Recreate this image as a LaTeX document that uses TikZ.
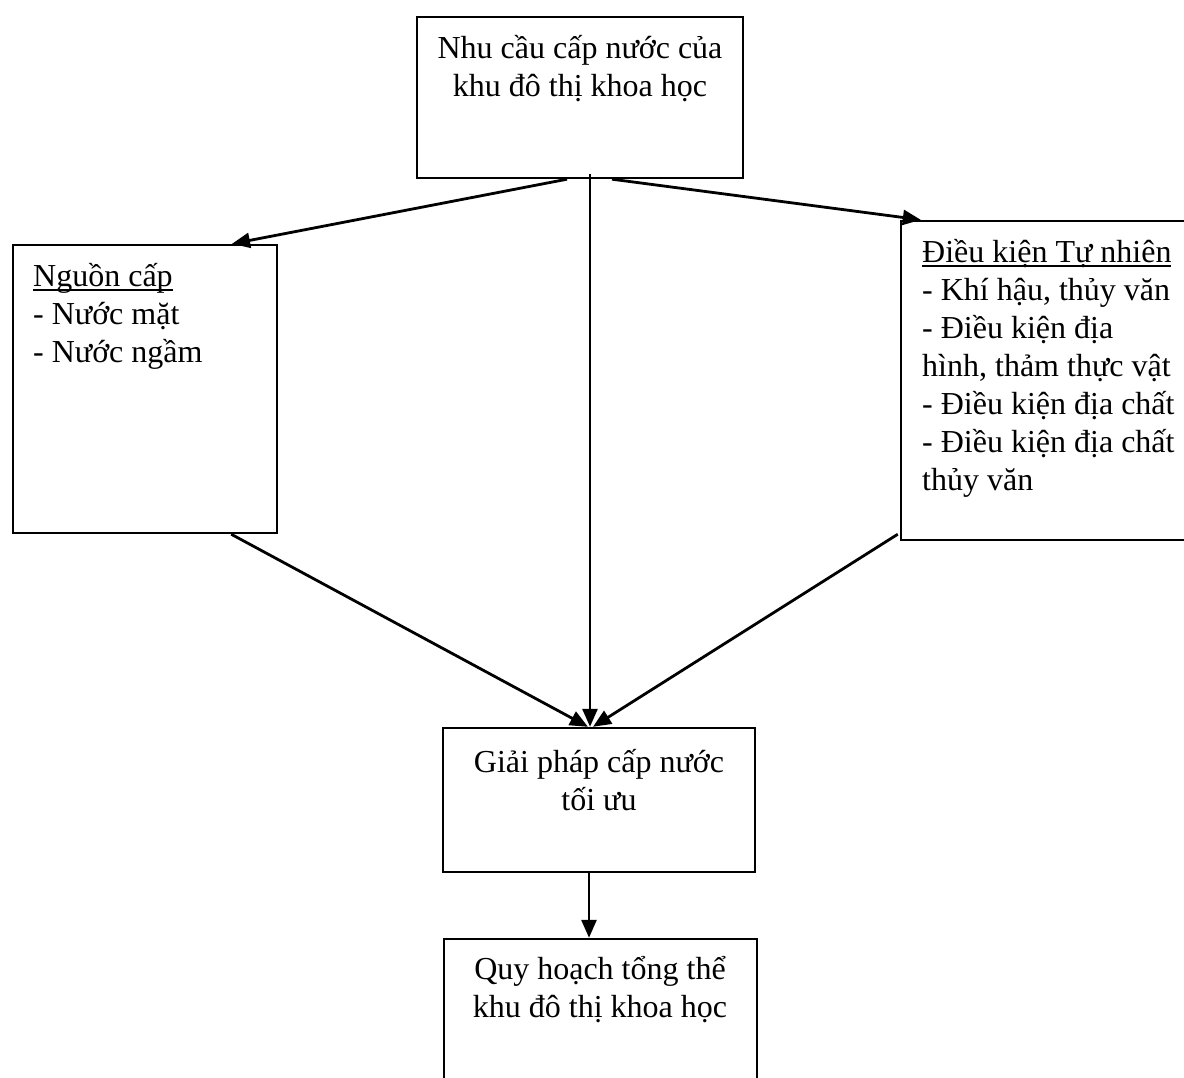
\documentclass[tikz,border=0pt]{standalone}
\usepackage{fontspec}
\setmainfont{Liberation Serif}
\usetikzlibrary{arrows.meta}
\newcommand\myul[1]{\leavevmode\setbox0\hbox{#1}\rlap{\rule[-5pt]{\wd0}{1.8pt}}\box0}
\begin{document}
\begin{tikzpicture}[x=1pt,y=-1pt,
  box/.style={draw, line width=2.4pt, inner sep=0pt},
  txt/.style={inner sep=0pt, font=\fontsize{32}{38}\selectfont},
  arr/.style={line width=2.8pt, -{Triangle[length=18pt,width=15pt]}}]
\useasboundingbox (0,0) rectangle (1184,1077);
\clip (0,0) rectangle (1184,1077);
\fill[white] (0,0) rectangle (1184,1077);
% boxes
\node[box, minimum width=326pt, minimum height=161pt] (top) at (580,97.5) {};
\node[box, minimum width=264pt, minimum height=288pt] (left) at (145,389) {};
\node[box, minimum width=294pt, minimum height=319pt] (right) at (1048,380.5) {};
\node[box, minimum width=312pt, minimum height=144pt] (mid) at (599,800) {};
\node[box, minimum width=313pt, minimum height=161pt] (bot) at (600.5,1019.5) {};
% texts (base anchor = baseline of the last line)
\node[txt, align=center, anchor=base] (toptxt) at (580,96) {Nhu cầu cấp nước của\\khu đô thị khoa học};
\node[txt, align=left, anchor=base west] (lefttxt) at (33,362) {\myul{Nguồn cấp}\\- Nước mặt\\- Nước ngầm};
\node[txt, align=left, anchor=base west] (righttxt) at (922,490) {\myul{Điều kiện Tự nhiên}\\- Khí hậu, thủy văn\\- Điều kiện địa\\hình, thảm thực vật\\- Điều kiện địa chất\\- Điều kiện địa chất\\thủy văn};
\node[txt, align=center, anchor=base] (midtxt) at (599,810) {Giải pháp cấp nước\\tối ưu};
\node[txt, align=center, anchor=base] (bottxt) at (600,1017) {Quy hoạch tổng thể\\khu đô thị khoa học};
% connectors
\draw[arr] ([xshift=-13pt]top.south) -- ([xshift=87pt]left.north);
\draw[arr] ([xshift=32pt]top.south) -- ([xshift=21pt]right.north west);
\draw[arr] ([xshift=10pt,yshift=5pt]top.south) -- ([xshift=-9pt]mid.north);
\draw[arr] ([xshift=-47pt]left.south east) -- ([xshift=-11pt]mid.north);
\draw[arr] ([xshift=-2pt,yshift=7pt]right.south west) -- ([xshift=-6pt]mid.north);
\draw[arr] ([xshift=-10pt]mid.south) -- ([xshift=-11.5pt]bot.north);
\end{tikzpicture}
\end{document}
